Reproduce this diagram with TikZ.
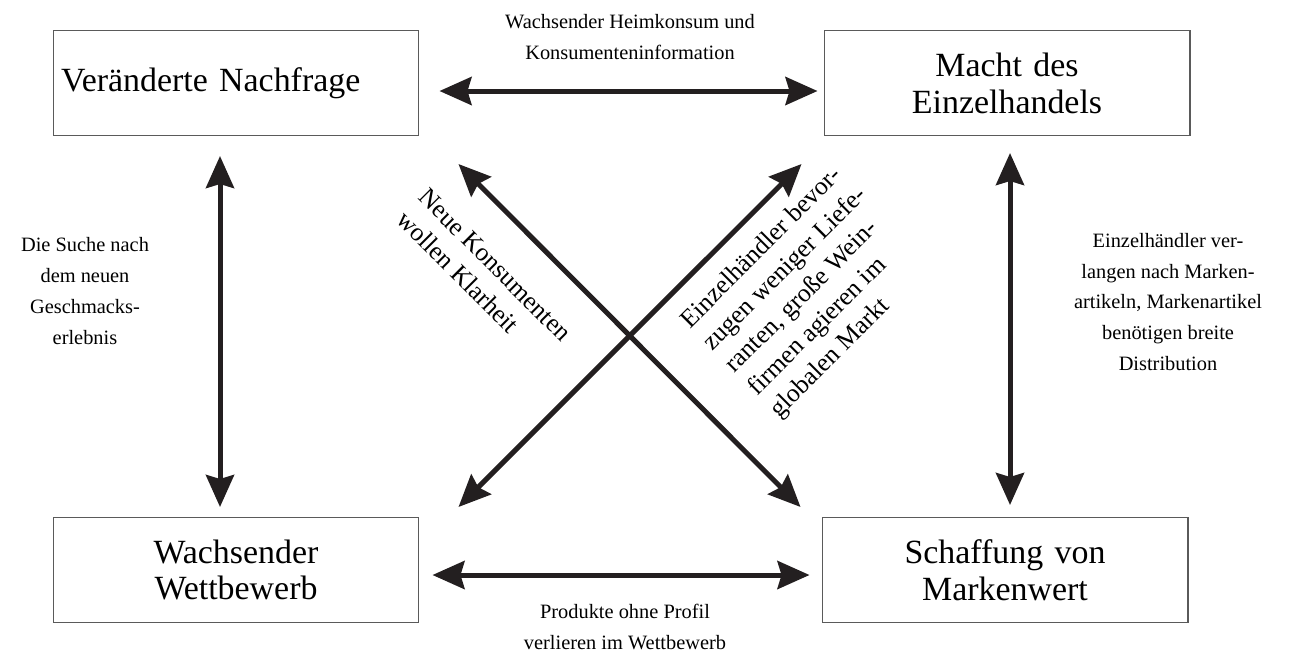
\documentclass[tikz,border=0pt]{standalone}
\usepackage{fontspec}
\setmainfont{Liberation Serif}
\usetikzlibrary{arrows.meta}
\begin{document}
\begin{tikzpicture}[x=0.02cm,y=-0.02cm]

\definecolor{box_draw}{RGB}{90,90,90}
\definecolor{box_text}{RGB}{0,0,0}
\definecolor{arrow_draw}{RGB}{35,31,32}
\tikzstyle{box_style}=[rectangle,draw=box_draw,text=box_text,line width=0.6pt,minimum width=7.32cm,minimum height=2.1cm,text width=7.0cm,inner xsep=0.16cm,font=\fontsize{19.3}{21}\selectfont,align=center]
\tikzstyle{label_style}=[text=box_text,font=\fontsize{11.6}{17.5}\selectfont,align=center,inner sep=0pt]
\tikzstyle{slant_style}=[label_style,font=\fontsize{14.6}{18}\selectfont,align=left]
\tikzstyle{arrow_style}=[draw=arrow_draw,line width=0.1cm,>={Stealth[length=0.64cm,width=0.56cm,inset=0.08cm]},<->]

\useasboundingbox (0,0) rectangle (1297,657);

\node(nachfrage) at (236,83) [box_style,align=left] {Veränderte Nachfrage};

\node(macht) at (1007,83) [box_style] {Macht des\\Einzelhandels};

\node(wettbewerb) at (236,570) [box_style] {Wachsender\\Wettbewerb};

\node(marke) at (1005,570) [box_style] {Schaffung von\\Markenwert};

\node(heimkonsum) at (630,37) [label_style] {Wachsender Heimkonsum und\\Konsumenteninformation};
\node(suche) at (85,291) [label_style] {Die Suche nach\\dem neuen\\Geschmacks-\\erlebnis};
\node(verlangen) at (1168,302) [label_style] {Einzelhändler ver-\\langen nach Marken-\\artikeln, Markenartikel\\benötigen breite\\Distribution};
\node(profil) at (625,627) [label_style] {Produkte ohne Profil\\verlieren im Wettbewerb};
\node(klarheit) at (484,276) [slant_style,rotate=-45] {Neue Konsumenten\\wollen Klarheit};
\node(lieferanten) at (808,292) [slant_style,rotate=45] {Einzelhändler bevor-\\zugen weniger Liefe-\\ranten, große Wein-\\firmen agieren im\\globalen Markt};

\draw[arrow_style] ([shift={(20,8)}]nachfrage.east) -- ([shift={(-6,8)}]macht.west);
\draw[arrow_style] ([shift={(13,5)}]wettbewerb.east) -- ([shift={(-12,5)}]marke.west);
\draw[arrow_style] ([shift={(-16,20)}]nachfrage.south) -- ([shift={(-16,-10)}]wettbewerb.north);
\draw[arrow_style] ([shift={(3,17)}]macht.south) -- ([shift={(5,-12)}]marke.north);
\draw[arrow_style] ([shift={(39,28)}]nachfrage.south east) -- ([shift={(-21,-10)}]marke.north west);
\draw[arrow_style] ([shift={(39,-10)}]wettbewerb.north east) -- ([shift={(-22,28)}]macht.south west);

\end{tikzpicture}
\end{document}
